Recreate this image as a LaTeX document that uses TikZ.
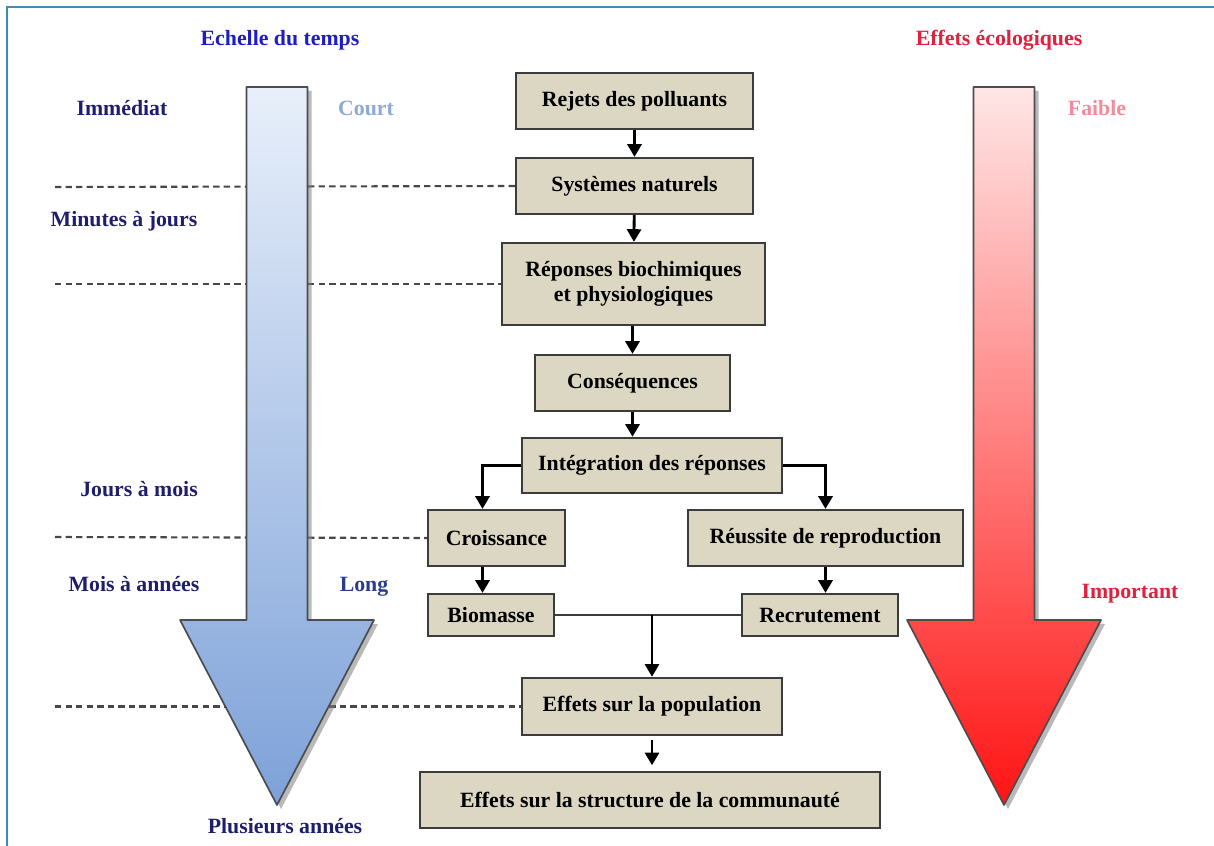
\documentclass[tikz,border=0pt]{standalone}
\usepackage{fontspec}
\setmainfont{Liberation Serif}
\usepackage{xcolor}
\usepackage{tikz}
\usetikzlibrary{arrows.meta,positioning,calc,backgrounds}
\definecolor{boxfill}{HTML}{DCD7C3}
\definecolor{boxline}{HTML}{3C3C3C}
\definecolor{timeblue}{HTML}{1C1CC8}
\definecolor{navy}{HTML}{1E1E6E}
\definecolor{shortblue}{HTML}{8EA9D6}
\definecolor{longblue}{HTML}{2B3C8F}
\definecolor{ecored}{HTML}{E0203C}
\definecolor{weakpink}{HTML}{F28C9C}
\definecolor{frameteal}{HTML}{3A8DB4}
\definecolor{bluetop}{HTML}{E8EFFA}
\definecolor{bluebot}{HTML}{7DA1D8}
\definecolor{redtop}{HTML}{FFE6E6}
\definecolor{redbot}{HTML}{FF1414}
\tikzset{
  procbox/.style={draw=boxline,fill=boxfill,line width=1.6pt,font=\fontsize{15.5}{18}\selectfont\bfseries,align=center,inner sep=2pt},
  scalelbl/.style={font=\fontsize{15.5}{18}\selectfont\bfseries},
  diredge/.style={-{Triangle[length=9pt,width=10pt]},line width=2pt,black},
  joinedge/.style={line width=1.6pt,boxline},
  levelline/.style={dash pattern=on 4.5pt off 3pt,line width=1.5pt,black!72},
  bigarrow/.style={draw=black!70,line width=1.2pt,line join=round},
  arrowshadow/.style={fill=black!50,opacity=.55},
}

\begin{document}
\begin{tikzpicture}[x=0.025cm,y=-0.025cm]
  \useasboundingbox (0,0) rectangle (1214,846);
  \draw[frameteal,line width=1pt] (7,846) -- (7,7) -- (1214,7);

  % flow boxes
  \node[procbox,minimum width=5.93cm,minimum height=1.40cm] (rejets) at (634.5,101) {Rejets des polluants};
  \node[procbox,minimum width=5.93cm,minimum height=1.40cm] (systn) at (634.5,186) {Systèmes naturels};
  \node[procbox,minimum width=6.58cm,minimum height=2.05cm] (repbio) at (633.5,284) {Réponses biochimiques\\et physiologiques};
  \node[procbox,minimum width=4.88cm,minimum height=1.40cm] (conseq) at (632.5,383) {Conséquences};
  \node[procbox,minimum width=6.50cm,minimum height=1.38cm] (integ) at (652,465.5) {Intégration des réponses};
  \node[procbox,minimum width=3.43cm,minimum height=1.40cm] (croiss) at (496.5,538) {Croissance};
  \node[procbox,minimum width=6.88cm,minimum height=1.40cm] (reuss) at (825.5,538) {Réussite de reproduction};
  \node[procbox,minimum width=3.15cm,minimum height=1.05cm] (biom) at (491,615) {Biomasse};
  \node[procbox,minimum width=3.90cm,minimum height=1.05cm] (recrut) at (820,615) {Recrutement};
  \node[procbox,minimum width=6.50cm,minimum height=1.43cm] (popul) at (652,706.5) {Effets sur la population};
  \node[procbox,minimum width=11.5cm,minimum height=1.40cm] (commu) at (650,800) {Effets sur la structure de la communauté};

  % side labels
  \node[scalelbl,timeblue] (ttemps) at (280,40) {Echelle du temps};
  \node[scalelbl,ecored] (tecol) at (999,40) {Effets écologiques};
  \node[scalelbl,navy] (limm) at (122,108) {Immédiat};
  \node[scalelbl,navy] (lmin) at (124,221) {Minutes à jours};
  \node[scalelbl,navy] (ljours) at (139,489) {Jours à mois};
  \node[scalelbl,navy] (lmois) at (134,584) {Mois à années};
  \node[scalelbl,navy] (lplus) at (285,826) {Plusieurs années};
  \node[scalelbl,shortblue] (lcourt) at (366,108) {Court};
  \node[scalelbl,longblue] (llong) at (364,587) {Long};
  \node[scalelbl,weakpink] (lfaib) at (1097,108) {Faible};
  \node[scalelbl,ecored] (limp) at (1130,594) {Important};

  % connectors
  \draw[diredge] (rejets) -- (systn);
  \draw[diredge] (systn) -- (repbio);
  \draw[diredge] (repbio.south -| conseq.north) -- (conseq);
  \draw[diredge] (conseq.south) -- (conseq.south |- integ.north);
  \draw[diredge] (integ.west) -| ([xshift=-0.35cm]croiss.north);
  \draw[diredge] (integ.east) -| (reuss.north);
  \draw[diredge] ([xshift=-0.35cm]croiss.south) -- ([xshift=-0.35cm]croiss.south |- biom.north);
  \draw[diredge] (reuss.south) -- (reuss.south |- recrut.north);
  \draw[joinedge] (biom.east) -- (recrut.west);
  \coordinate (jn) at (popul.north |- biom.east);
  \draw[diredge] (jn) -- (popul.north);
  \draw[diredge,shorten <=3pt,shorten >=4pt] (popul.south) -- (popul.south |- commu.north);

  \begin{scope}[on background layer]
    % time levels
    \foreach \yy/\tgt in {187/systn,284/repbio,537/croiss,706.5/popul}{
      \coordinate (lv\tgt) at (55,\yy);
      \draw[levelline] (lv\tgt) -- (\tgt.west);
    }
    % big arrows
    \foreach \cx/\ctop/\cbot in {277/bluetop/bluebot,1004/redtop/redbot}{
      \fill[arrowshadow] (\cx-26.5,91) -- (\cx+34.5,91) -- (\cx+34.5,624) -- (\cx+101,624) -- (\cx+4,809) -- (\cx-93,624) -- (\cx-26.5,624) -- cycle;
      \path[bigarrow,top color=\ctop,bottom color=\cbot] (\cx-30.5,87) -- (\cx+30.5,87) -- (\cx+30.5,620) -- (\cx+97,620) -- (\cx,805) -- (\cx-97,620) -- (\cx-30.5,620) -- cycle;
    }
  \end{scope}
\end{tikzpicture}
\end{document}
